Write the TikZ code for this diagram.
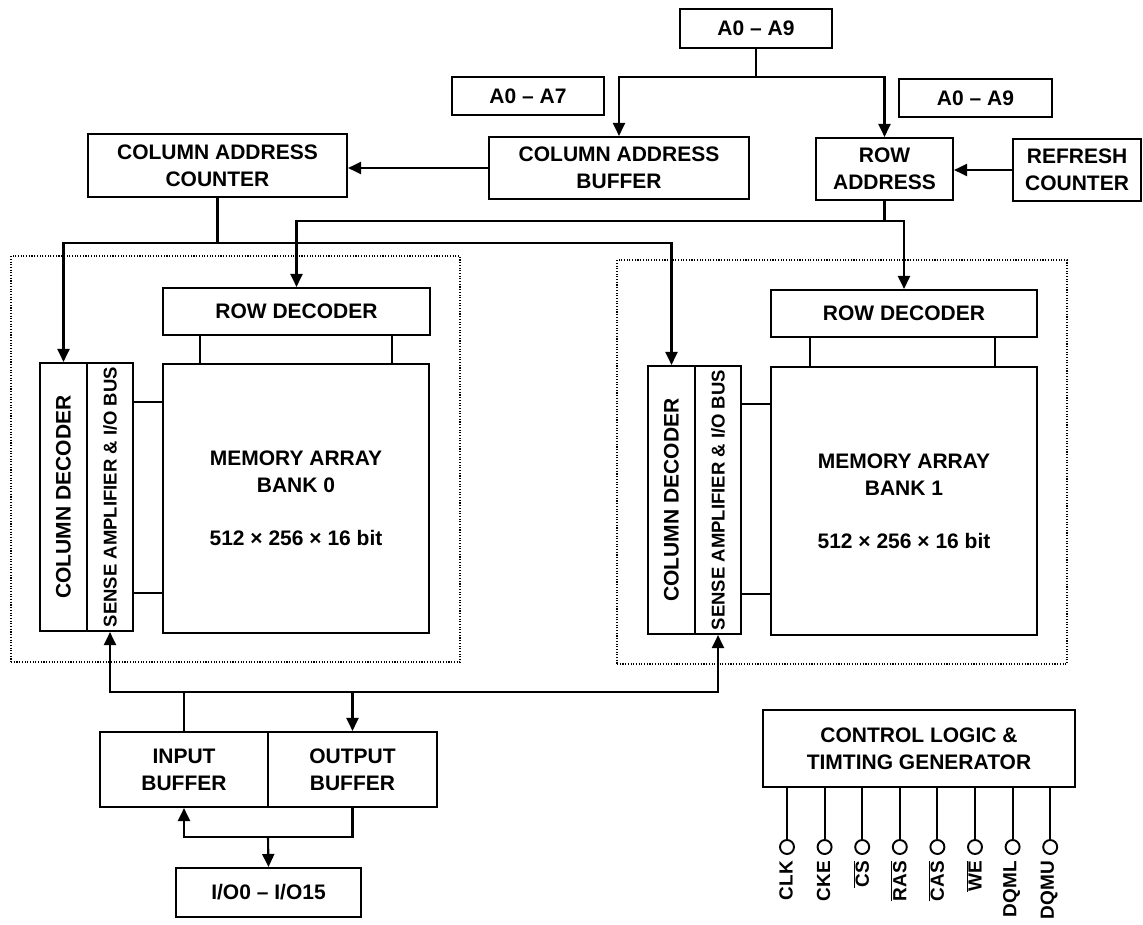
\documentclass[tikz,border=0pt]{standalone}
\usepackage{fontspec}
\setmainfont{Liberation Sans}
\usepackage{graphicx}
\usetikzlibrary{arrows.meta,calc}
\tikzset{
  box/.style={draw, line width=2.1pt, inner sep=0pt, align=center, font=\fontsize{21}{27}\selectfont\bfseries},
  arr/.style={line width=2.1pt, -{Triangle[length=13pt,width=12pt]}},
  wire/.style={line width=2.1pt},
  dotbox/.style={draw, line width=1.1pt, dash pattern=on 1.1pt off 1.6pt, inner sep=0pt},
  pinc/.style={draw, circle, line width=1.9pt, minimum size=14pt, inner sep=0pt},
  pinlbl/.style={rotate=90, anchor=east, inner sep=0pt, font=\fontsize{19}{23}\selectfont\bfseries},
  samp/.style={font=\fontsize{18.5}{22}\selectfont\bfseries}
}
\begin{document}
\begin{tikzpicture}[x=1pt,y=-1pt]
\useasboundingbox (0,0) rectangle (1143,924);

% top address section
\node[box, minimum width=152pt, minimum height=39pt] (atop) at (756,28.5) {A0 – A9};
\node[box, minimum width=152pt, minimum height=38pt] (a07) at (528,96) {A0 – A7};
\node[box, minimum width=153pt, minimum height=38pt] (a09) at (975.5,98) {A0 – A9};
\node[box, minimum width=260pt, minimum height=62pt] (cab) at (619,168) {COLUMN ADDRESS\\BUFFER};
\node[box, minimum width=137pt, minimum height=62pt] (rowaddr) at (884.5,169) {ROW\\ADDRESS};
\node[box, minimum width=128pt, minimum height=62pt] (refresh) at (1077,170) {REFRESH\\COUNTER};
\node[box, minimum width=259pt, minimum height=63pt] (cac) at (217.5,165.5) {COLUMN ADDRESS\\COUNTER};

% bank 0
\node[dotbox, minimum width=449pt, minimum height=406pt] (bank0) at (235.5,459) {};
\node[box, minimum width=267pt, minimum height=47pt] (rd0) at (296.5,311.5) {ROW DECODER};
\node[box, minimum width=266pt, minimum height=269pt] (mem0) at (296,498.5) {MEMORY ARRAY\\BANK 0\\[26pt]512 × 256 × 16 bit};
\node[box, minimum width=47pt, minimum height=268pt] (cd0) at (63.5,497) {\rotatebox{90}{COLUMN DECODER}};
\node[box, samp, minimum width=46pt, minimum height=268pt] (sa0) at (110,497) {\rotatebox{90}{SENSE AMPLIFIER \& I/O BUS}};
\draw[wire] ($(rd0.south west)+(38,0)$) -- ($(mem0.north west)+(38,0)$);
\draw[wire] ($(rd0.south west)+(230,0)$) -- ($(mem0.north west)+(230,0)$);
\draw[wire] ($(mem0.north west)+(0,39)$) -- ($(sa0.north east)+(0,40)$);
\draw[wire] ($(mem0.north west)+(0,230)$) -- ($(sa0.north east)+(0,231)$);

% bank 1
\node[dotbox, minimum width=450pt, minimum height=404pt] (bank1) at (842,462) {};
\node[box, minimum width=266pt, minimum height=47pt] (rd1) at (904,313.5) {ROW DECODER};
\node[box, minimum width=266pt, minimum height=268pt] (mem1) at (904,501) {MEMORY ARRAY\\BANK 1\\[26pt]512 × 256 × 16 bit};
\node[box, minimum width=47pt, minimum height=268pt] (cd1) at (671.5,500) {\rotatebox{90}{COLUMN DECODER}};
\node[box, samp, minimum width=46pt, minimum height=268pt] (sa1) at (718,500) {\rotatebox{90}{SENSE AMPLIFIER \& I/O BUS}};
\draw[wire] ($(rd1.south west)+(40,0)$) -- ($(mem1.north west)+(40,0)$);
\draw[wire] ($(rd1.south west)+(225,0)$) -- ($(mem1.north west)+(225,0)$);
\draw[wire] ($(mem1.north west)+(0,38)$) -- ($(sa1.north east)+(0,39)$);
\draw[wire] ($(mem1.north west)+(0,228)$) -- ($(sa1.north east)+(0,229)$);

% address connectors
\coordinate (abus) at (756,77);
\draw[wire] (atop.south) -- (abus);
\draw[arr] (abus) -| (cab.north);
\draw[arr] (abus) -| (rowaddr.north);
\draw[arr] (cab.west) -- (cab.west -| cac.east);
\draw[arr] (refresh.west) -- (refresh.west -| rowaddr.east);
\coordinate (cbus) at (217.5,243);
\draw[wire] (cac.south) -- (cbus);
\draw[arr] (cbus) -| (cd0.north);
\draw[arr] (cbus) -| (cd1.north);
\coordinate (rbus) at (884.5,221);
\draw[wire] (rowaddr.south) -- (rbus);
\draw[arr] (rbus) -| (rd0.north);
\draw[arr] (rbus) -| (rd1.north);

% I/O buffers
\node[box, minimum width=168pt, minimum height=75pt] (inbuf) at (184,769.5) {INPUT\\BUFFER};
\node[box, minimum width=169pt, minimum height=75pt] (outbuf) at (352.5,769.5) {OUTPUT\\BUFFER};
\node[box, minimum width=185pt, minimum height=49pt] (io) at (268.5,892.5) {I/O0 – I/O15};
\coordinate (dbus) at (184,692);
\draw[wire] (inbuf.north) -- (dbus);
\draw[arr] (dbus) -| (sa0.south);
\draw[arr] (dbus) -| (sa1.south);
\draw[arr] (dbus -| outbuf.north) -- (outbuf.north);
\coordinate (iobus) at (268,837);
\draw[arr] (outbuf.south) |- (iobus) -| (inbuf.south);
\draw[arr] (iobus) -- (io.north);

% control logic
\node[box, minimum width=312pt, minimum height=77pt] (ctrl) at (919,748.5) {CONTROL LOGIC \&\\TIMTING GENERATOR};
\foreach \i/\x/\t in {1/787/CLK, 2/824.6/CKE, 3/862.2/{$\overline{\mbox{CS}}$}, 4/899.8/{$\overline{\mbox{RAS}}$}, 5/937.4/{$\overline{\mbox{CAS}}$}, 6/975/{$\overline{\mbox{WE}}$}, 7/1012.6/DQML, 8/1050.2/DQMU} {
  \node[pinc] (pin\i) at (\x,847) {};
  \draw[wire] (pin\i.north) -- (pin\i.north |- ctrl.south);
  \node[pinlbl] (lbl\i) at ($(pin\i.south)+(-1,6)$) {\t};
}
\end{tikzpicture}
\end{document}
